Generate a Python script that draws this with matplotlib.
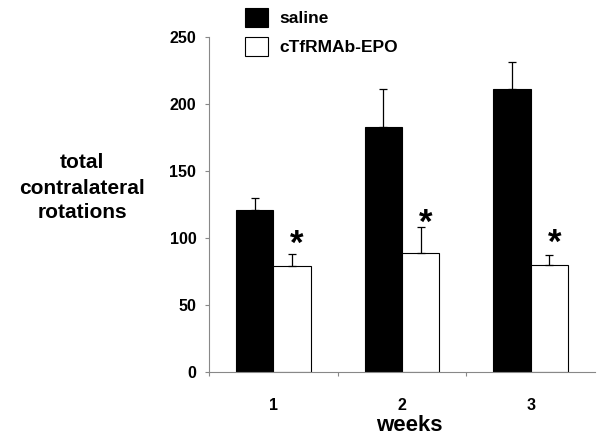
import matplotlib.pyplot as plt
import numpy as np

plt.rcParams['font.family'] = ['Liberation Sans', 'DejaVu Sans']
plt.rcParams['font.weight'] = 'bold'

weeks = ['1', '2', '3']
saline = [121, 183, 211]
saline_err = [9, 28, 20]
epo = [79, 89, 80]
epo_err = [9, 19, 7]
star_y = [95, 111, 96]

x = np.arange(len(weeks))
w = 0.29

fig = plt.figure(figsize=(6, 4.4), dpi=100)
ax = fig.add_axes([0.348, 0.1545, 0.644, 0.7615])

ax.bar(x - w / 2, saline, w, color='black', edgecolor='black', linewidth=0.8,
       label='saline')
ax.bar(x + w / 2, epo, w, color='white', edgecolor='black', linewidth=0.8,
       label='cTfRMAb-EPO')
ax.errorbar(x - w / 2, saline, yerr=[np.zeros(3), saline_err], fmt='none',
            ecolor='black', elinewidth=0.9, capsize=3, capthick=0.9)
ax.errorbar(x + w / 2, epo, yerr=[np.zeros(3), epo_err], fmt='none',
            ecolor='black', elinewidth=0.9, capsize=3, capthick=0.9)

for xi, yi in zip(x, star_y):
    ax.text(xi + w / 2 + 0.04, yi, '*', fontsize=25, fontweight='bold',
            ha='center', va='center')

ax.set_xlim(-0.5, 2.5)
ax.set_ylim(0, 250)
ax.set_yticks([0, 50, 100, 150, 200, 250])
ax.set_xticks([-0.5, 0.5, 1.5])
ax.set_xticklabels([])
ax.set_xticks(x, minor=True)
ax.set_xticklabels(weeks, minor=True)
ax.tick_params(axis='x', which='minor', length=0, pad=19, labelsize=11.5)
ax.tick_params(axis='x', which='major', length=3, color='#888888', direction='out')
ax.tick_params(axis='y', length=3, color='#888888', labelsize=11.5, pad=6)

for s in ['top', 'right']:
    ax.spines[s].set_visible(False)
for s in ['left', 'bottom']:
    ax.spines[s].set_color('#888888')
    ax.spines[s].set_linewidth(0.8)

fig.text(0.683, 1 - 425 / 440, 'weeks', fontsize=16, fontweight='bold',
         ha='center', va='center')
fig.text(0.137, 1 - 188 / 440, 'total\ncontralateral\nrotations', fontsize=15,
         fontweight='bold', ha='center', va='center', linespacing=1.4)

ax.legend(loc='upper left', bbox_to_anchor=(0.395, 1.0), bbox_transform=fig.transFigure,
          frameon=False, fontsize=12.5, handlelength=1.35, handleheight=1.35,
          labelspacing=0.55, handletextpad=0.65, borderaxespad=0.15, borderpad=0.3)

fig.savefig('out.png', dpi=100)
